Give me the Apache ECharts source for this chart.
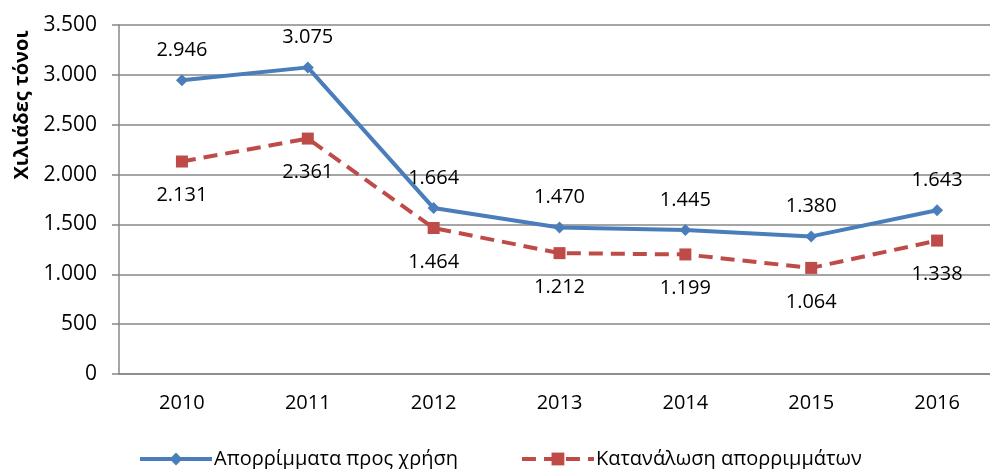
<!DOCTYPE html>
<html style="height: 100%">
<head>
    <meta charset="utf-8">
    <script src="https://cdn.jsdelivr.net/npm/echarts@6/dist/echarts.min.js"></script>
</head>
<body style="height: 100%; margin: 0; background: #fff; overflow: hidden">
    <!-- λίγο πλατύτερο από το παράθυρο: το πλέγμα κόβεται δεξιά όπως στο πρωτότυπο -->
    <div id="main" style="width: 1000px; height: 469px"></div>
    <script type="text/javascript">
        // δεδομένα
        var years = ['2010', '2011', '2012', '2013', '2014', '2015', '2016'];
        var wasteForUse = [2946, 3075, 1664, 1470, 1445, 1380, 1643];
        var wasteConsumed = [2131, 2361, 1464, 1212, 1199, 1064, 1338];
        var seriesNames = ['Απορρίμματα προς χρήση', 'Κατανάλωση απορριμμάτων'];
        var yAxisTitle = 'Χιλιάδες τόνοι';

        var font = 'Open Sans';
        var gray = '#878787';
        var blue = '#4A7EBB';
        var red = '#BE4B48';

        // 3500 -> 3.500
        function fmt(v) {
            return String(v).replace(/\B(?=(\d{3})+(?!\d))/g, '.');
        }

        var myChart = echarts.init(document.getElementById('main'));

        var option = {
            animation: false,
            textStyle: { fontFamily: font },
            grid: { left: 119, top: 25, bottom: 95, right: 0 },
            legend: {
                left: 133,
                top: 444,
                itemWidth: 72,
                itemHeight: 16,
                itemGap: 62,
                textStyle: { fontFamily: font, fontSize: 20, color: '#000', padding: [0, 0, 0, -3] },
                data: [
                    { name: seriesNames[0], lineStyle: { width: 4 } },
                    { name: seriesNames[1], lineStyle: { width: 4 } }
                ]
            },
            graphic: [{
                type: 'text',
                x: 22,
                y: 105,
                rotation: Math.PI / 2,
                style: {
                    text: yAxisTitle,
                    font: 'bold 20px "Open Sans"',
                    fill: '#000',
                    align: 'center',
                    verticalAlign: 'middle'
                }
            }],
            xAxis: {
                type: 'category',
                data: years,
                axisLine: { lineStyle: { color: gray, width: 1.5 } },
                axisTick: { alignWithLabel: true, length: 5, lineStyle: { color: gray, width: 1.5 } },
                axisLabel: { color: '#000', fontSize: 20, margin: 19 }
            },
            yAxis: {
                type: 'value',
                min: 0,
                max: 3500,
                interval: 500,
                axisLine: { show: true, lineStyle: { color: gray, width: 1.5 } },
                axisTick: { show: true, length: 7, lineStyle: { color: gray, width: 1.5 } },
                axisLabel: { color: '#000', fontSize: 21, margin: 22, formatter: fmt },
                splitLine: { lineStyle: { color: gray, width: 1.5 } }
            },
            series: [
                {
                    name: seriesNames[0],
                    type: 'line',
                    data: wasteForUse,
                    symbol: 'diamond',
                    symbolSize: 12,
                    itemStyle: { color: blue },
                    lineStyle: { color: blue, width: 4 },
                    label: {
                        show: true,
                        position: 'top',
                        distance: 14,
                        color: '#000',
                        fontSize: 20,
                        formatter: function (p) { return fmt(p.value); }
                    },
                    z: 3
                },
                {
                    name: seriesNames[1],
                    type: 'line',
                    data: wasteConsumed,
                    symbol: 'rect',
                    symbolSize: 12,
                    itemStyle: { color: red },
                    lineStyle: { color: red, width: 4, type: [14, 8] },
                    label: {
                        show: true,
                        position: 'bottom',
                        distance: 18,
                        color: '#000',
                        fontSize: 20,
                        formatter: function (p) { return fmt(p.value); }
                    },
                    z: 2
                }
            ]
        };

        myChart.setOption(option);
    </script>
</body>
</html>
